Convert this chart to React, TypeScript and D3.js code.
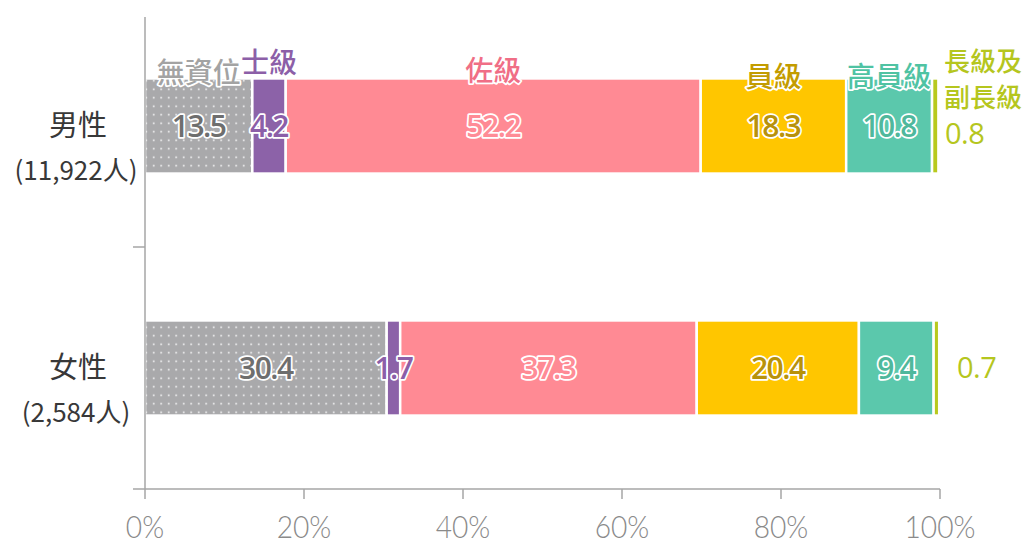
import React from "react";
import * as d3 from "d3";

const rows = ["男性", "女性"];
const rowCounts = ["(11,922人)", "(2,584人)"];
const levels = ["無資位", "士級", "佐級", "員級", "高員級", "長級及副長級"];
const maleValues = [13.5, 4.2, 52.2, 18.3, 10.8, 0.8];
const femaleValues = [30.4, 1.7, 37.3, 20.4, 9.4, 0.7];
const xTicks = [0, 20, 40, 60, 80, 100];

const fillColors = ["url(#dots)", "#8C62A8", "#FF8A94", "#FFC600", "#5BC8AC", "#B8C91E"];
const valueColors = ["#6E6E6E", "#8C5EA8", "#FF8C96", "#B8920A", "#4FB89C", "#B5C61E"];
const headColors = ["#A3A3A3", "#8C5FA8", "#F06E86", "#C39C00", "#4FC3A3", "#B5C61E"];

const W = 1032, H = 545;
const CJK = "'Noto Sans CJK TC', 'Noto Sans', sans-serif";
const NUM = "'Open Sans', 'Noto Sans', sans-serif";

export default function App() {
  const x = d3.scaleLinear().domain([0, 100]).range([145, 940]);
  const y = d3.scaleBand<string>().domain(rows).range([5, 489]).paddingInner(0.607).paddingOuter(0.3035);
  const data = [maleValues, femaleValues];
  const bw = y.bandwidth();
  const halo = { stroke: "#fff", strokeWidth: 3.5, paintOrder: "stroke" as const, strokeLinejoin: "round" as const };
  const midY = (y(rows[0])! + y(rows[1])! + bw) / 2;

  return (
    <svg width={W} height={H} style={{ position: "absolute", left: 0, top: 0, background: "#fff" }}>
      <defs>
        <pattern id="dots" width={7.5} height={8.5} patternUnits="userSpaceOnUse">
          <rect width={7.5} height={8.5} fill="#A9A9AB" />
          <circle cx={3.7} cy={4.2} r={0.9} fill="#ffffff" opacity={0.9} />
        </pattern>
      </defs>

      {data.map((vals, ri) => {
        let cum = 0;
        const row = rows[ri];
        const y0 = y(row)!;
        return (
          <g key={row}>
            {vals.map((v, i) => {
              const start = cum;
              cum += v;
              return (
                <rect key={i} x={x(start)} y={y0} width={x(cum) - x(start)} height={bw}
                  fill={fillColors[i]} stroke="#fff" strokeWidth={2.5} />
              );
            })}
          </g>
        );
      })}

      {/* axes */}
      <line x1={145} x2={145} y1={17} y2={489} stroke="#A6A6A6" strokeWidth={1.5} />
      <line x1={133} x2={145} y1={midY} y2={midY} stroke="#A6A6A6" strokeWidth={1.5} />
      <line x1={133} x2={x(100)} y1={489} y2={489} stroke="#A6A6A6" strokeWidth={1.5} />
      {xTicks.map((t) => (
        <g key={t}>
          <line x1={x(t)} x2={x(t)} y1={489} y2={499} stroke="#A6A6A6" strokeWidth={1.5} />
          <text transform={`translate(${x(t)},538) scale(0.88,1)`} textAnchor="middle"
            fontFamily="Lato, 'Liberation Sans', sans-serif" fontWeight={300}
            fontSize={32} fill="#8A8A8A">{t}%</text>
        </g>
      ))}

      {/* row labels */}
      {rows.map((r, ri) => {
        const c = y(r)! + bw / 2;
        return (
          <g key={r} fill="#383838" textAnchor="middle">
            <text x={78} y={c + 10} fontFamily={CJK} fontSize={29}>{r}</text>
            <text x={76} y={c + 54} fontFamily={CJK} fontSize={26}>{rowCounts[ri]}</text>
          </g>
        );
      })}

      {/* value labels */}
      {data.map((vals, ri) => {
        let cum = 0;
        const c = y(rows[ri])! + bw / 2;
        return vals.map((v, i) => {
          const start = cum;
          cum += v;
          if (i === levels.length - 1) {
            const off = ri === 0 ? 5 : 17;
            return (
              <text key={`${ri}-${i}`} x={x(100) + off} y={ri === 0 ? c + 18 : c + 10} fontFamily={NUM} fontSize={29}
                fill={valueColors[i]} letterSpacing={-0.5}>{v.toFixed(1)}</text>
            );
          }
          return (
            <text key={`${ri}-${i}`} x={x((start + cum) / 2)} y={c + 11} textAnchor="middle" fontFamily={NUM}
              fontSize={30} fontWeight={600} letterSpacing={-1.5} fill={valueColors[i]} {...halo}>{v.toFixed(1)}</text>
          );
        });
      })}

      {/* level headers above male bar */}
      {(() => {
        let cum = 0;
        const top = y(rows[0])!;
        const baseOff = [5, -5, 3, 9, 9];
        return maleValues.map((v, i) => {
          const start = cum;
          cum += v;
          if (i === levels.length - 1) {
            return (
              <text key={i} x={x(100) + 5} fontFamily={CJK} fontSize={26} fontWeight={500} fill={headColors[i]}>
                <tspan x={x(100) + 4} y={top - 7}>{levels[i].slice(0, 3)}</tspan>
                <tspan x={x(100) + 4} y={top + 29}>{levels[i].slice(3)}</tspan>
              </text>
            );
          }
          return (
            <text key={i} x={x((start + cum) / 2)} y={top + baseOff[i]} textAnchor="middle" fontFamily={CJK}
              fontSize={28} fontWeight={500} fill={headColors[i]} {...halo}>{levels[i]}</text>
          );
        });
      })()}
    </svg>
  );
}
